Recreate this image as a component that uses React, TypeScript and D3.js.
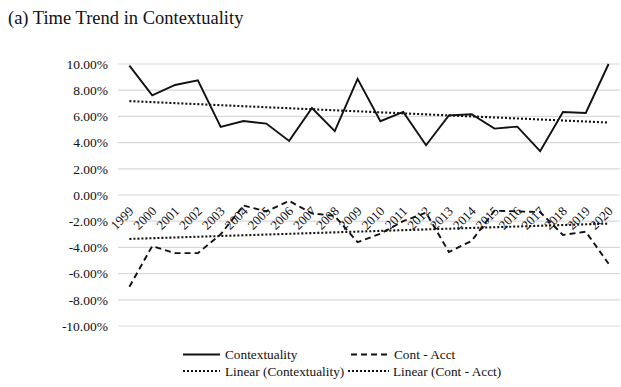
import React from "react";
import * as d3 from "d3";

// Fiscal years on the category axis
const years: string[] = [
  "1999", "2000", "2001", "2002", "2003", "2004", "2005", "2006", "2007", "2008", "2009",
  "2010", "2011", "2012", "2013", "2014", "2015", "2016", "2017", "2018", "2019", "2020",
];

// Contextuality, percent
const contextuality: number[] = [
  9.88, 7.6, 8.4, 8.75, 5.2, 5.65, 5.45, 4.13, 6.64, 4.87, 8.87,
  5.63, 6.34, 3.8, 6.08, 6.16, 5.07, 5.22, 3.35, 6.34, 6.26, 10.0,
];

// Contextuality minus accounting, percent
const contAcct: number[] = [
  -7.0, -3.9, -4.44, -4.44, -3.0, -0.8, -1.25, -0.45, -1.4, -1.6, -3.6,
  -2.95, -2.0, -1.35, -4.35, -3.5, -1.2, -1.25, -1.3, -3.05, -2.8, -5.25,
];

const yTicks: number[] = [10, 8, 6, 4, 2, 0, -2, -4, -6, -8, -10];

const title = "(a) Time Trend in Contextuality";
const legendItems = [
  { label: "Contextuality", style: "solid" },
  { label: "Cont - Acct", style: "dash" },
  { label: "Linear (Contextuality)", style: "dot" },
  { label: "Linear (Cont - Acct)", style: "dot" },
];

const W = 621;
const H = 387;
const FONT = "Liberation Serif, Times New Roman, serif";

// Ordinary least squares fit over category index, as a spreadsheet trendline does
function linearFit(vals: number[]): [number, number] {
  const n = vals.length;
  const xs = d3.range(n);
  const mx = d3.mean(xs) as number;
  const my = d3.mean(vals) as number;
  let sxy = 0;
  let sxx = 0;
  for (let i = 0; i < n; i++) {
    sxy += (xs[i] - mx) * (vals[i] - my);
    sxx += (xs[i] - mx) * (xs[i] - mx);
  }
  const slope = sxy / sxx;
  return [my - slope * mx, slope];
}

const dashFor = (style: string) =>
  style === "dash" ? "6 4" : style === "dot" ? "2 2" : undefined;

// Percent label with a plain hyphen for negatives
const pct = (t: number) => (t < 0 ? "-" : "") + Math.abs(t).toFixed(2) + "%";

export default function App() {
  const plotLeft = 118;
  const plotRight = 620;
  const x = d3.scaleBand<string>().domain(years).range([plotLeft, plotRight]);
  const y = d3.scaleLinear().domain([-10, 10]).range([326, 64]);
  const cx = (i: number) => (x(years[i]) as number) + x.bandwidth() / 2;

  const line = d3
    .line<number>()
    .x((_, i) => cx(i))
    .y((v) => y(v));

  const trend = (vals: number[]) => {
    const [a, b] = linearFit(vals);
    return line(years.map((_, i) => a + b * i)) as string;
  };

  const legendPos = [
    { x0: 183, x1: 220, tx: 225, ly: 354.5 },
    { x0: 351, x1: 390, tx: 394, ly: 354.5 },
    { x0: 183, x1: 220, tx: 225, ly: 371 },
    { x0: 348, x1: 389, tx: 393, ly: 371 },
  ];

  return (
    <svg
      width={W}
      height={H}
      style={{ position: "absolute", left: 0, top: 0, background: "#fff", fontFamily: FONT }}
    >
      <text x={8} y={24} fontSize={18.5} fill="#111">
        {title}
      </text>

      {yTicks.map((t) => (
        <g key={t}>
          <line x1={plotLeft} x2={plotRight} y1={y(t)} y2={y(t)} stroke="#d9d9d9" strokeWidth={1.2} />
          <text x={108} y={y(t)} dy="0.35em" textAnchor="end" fontSize={13.5} fill="#111">
            {pct(t)}
          </text>
        </g>
      ))}

      <path d={trend(contextuality)} fill="none" stroke="#111" strokeWidth={2.1} strokeDasharray="2 2" />
      <path d={trend(contAcct)} fill="none" stroke="#111" strokeWidth={2.1} strokeDasharray="2 2" />

      <path d={line(contextuality) as string} fill="none" stroke="#111" strokeWidth={1.9} />
      <path
        d={line(contAcct) as string}
        fill="none"
        stroke="#111"
        strokeWidth={1.9}
        strokeDasharray="6 4"
      />

      {years.map((yr, i) => (
        <text
          key={yr}
          transform={`translate(${cx(i) + 5},${212}) rotate(-45)`}
          textAnchor="end"
          fontSize={13}
          fill="#111"
        >
          {yr}
        </text>
      ))}

      {legendItems.map((it, k) => {
        const p = legendPos[k];
        return (
          <g key={it.label}>
            <line
              x1={p.x0}
              x2={p.x1}
              y1={p.ly}
              y2={p.ly}
              stroke="#111"
              strokeWidth={it.style === "dot" ? 2.1 : 1.9}
              strokeDasharray={dashFor(it.style)}
            />
            <text x={p.tx} y={p.ly} dy="0.35em" fontSize={13.3} fill="#111">
              {it.label}
            </text>
          </g>
        );
      })}
    </svg>
  );
}
